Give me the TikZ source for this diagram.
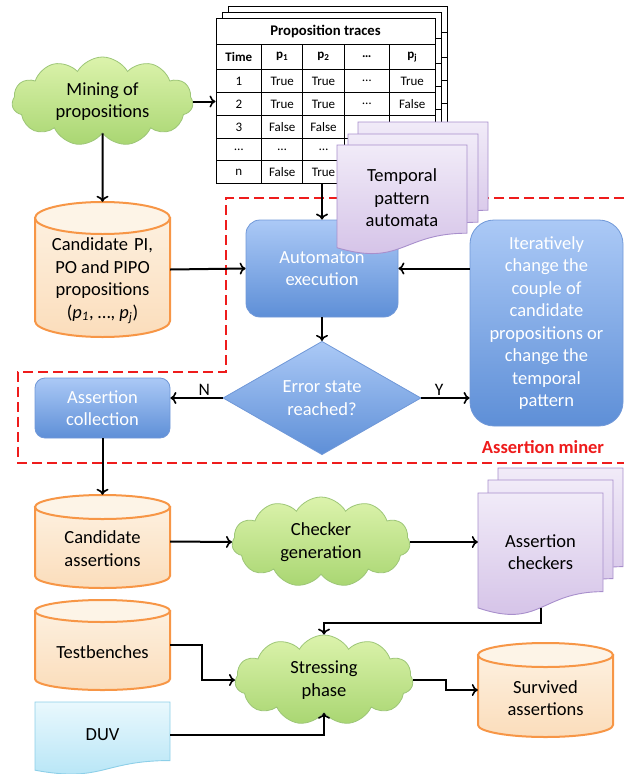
\documentclass[tikz,border=0pt]{standalone}
\usepackage{fontspec}
\setmainfont{Carlito}
\usetikzlibrary{shapes.symbols,shapes.geometric,arrows.meta}

\definecolor{cloudtop}{HTML}{DCF3AC}
\definecolor{cloudbot}{HTML}{A9D672}
\definecolor{cloudline}{HTML}{9DC677}
\definecolor{cyltop}{HTML}{FDF0DF}
\definecolor{cylbot}{HTML}{FBDDBB}
\definecolor{cylcap}{HTML}{FDF4E7}
\definecolor{cylline}{HTML}{F79646}
\definecolor{bluetop}{HTML}{ABC9F6}
\definecolor{bluebot}{HTML}{5E8FD7}
\definecolor{blueline}{HTML}{7098D8}
\definecolor{doctop}{HTML}{F1EBF8}
\definecolor{docbot}{HTML}{D2BFE6}
\definecolor{docline}{HTML}{A88FCC}
\definecolor{duvtop}{HTML}{E9F8FD}
\definecolor{duvbot}{HTML}{B3E4F6}
\definecolor{duvline}{HTML}{8DCFE8}
\definecolor{minered}{HTML}{EE1C1C}

\newcommand\mainfs{\fontsize{18.5}{22.5}\selectfont}
\newcommand\cellfs{\fontsize{13}{15}\selectfont}

% drum (cylinder): #1 name, #2 left, #3 top, #4 width, #5 height, #6 cap radius, #7 text, #8 text drop
\newcommand\drum[8]{%
  \path[top color=cyltop, bottom color=cylbot, draw=cylline, line width=2pt]
    (#2,#3+#6) -- (#2,#3+#5-#6)
    .. controls (#2,#3+#5-0.4477*#6) and (#2+#4/2-0.5523*#4/2,#3+#5) .. (#2+#4/2,#3+#5)
    .. controls (#2+#4/2+0.5523*#4/2,#3+#5) and (#2+#4,#3+#5-0.4477*#6) .. (#2+#4,#3+#5-#6)
    -- (#2+#4,#3+#6) -- cycle;
  \draw[fill=cylcap, draw=cylline, line width=2pt] (#2+#4/2,#3+#6) ellipse [x radius=#4/2, y radius=#6];
  \node[inner sep=0, minimum width=#4pt, minimum height=#5pt] (#1) at (#2+#4/2,#3+#5/2) {};
  \node[align=center, font=\mainfs, inner sep=0] (#1-t) at (#2+#4/2,#3+#5/2+#8) {#7};
}

% document sheet with wavy lower edge: #1 left, #2 top, #3 width, #4 height, #5 style
\newcommand\docshape[5]{%
  \draw[#5] (#1,#2) -- (#1+#3,#2) -- (#1+#3,#2+0.802*#4)
    .. controls (#1+0.5*#3,#2+0.802*#4) and (#1+0.5*#3,#2+1.107*#4) .. (#1,#2+0.934*#4) -- cycle;
}

\tikzset{
  flow/.style={line width=2pt, -{To[length=6pt,width=12pt,line width=1.6pt]}},
  cloudnode/.style={cloud, cloud puffs=11, cloud puff arc=120, cloud ignores aspect,
    draw=cloudline, line width=0.8pt, top color=cloudtop, bottom color=cloudbot,
    inner sep=0pt, align=center, font=\mainfs},
  bluebox/.style={draw=blueline, line width=0.8pt, top color=bluetop, bottom color=bluebot,
    text=white, align=center, font=\mainfs, inner sep=0pt},
  purpledoc/.style={draw=docline, line width=0.9pt, top color=doctop, bottom color=docbot},
  tline/.style={line width=1pt},
  tcell/.style={font=\cellfs, inner sep=0pt},
  thead/.style={font=\cellfs\bfseries, inner sep=0pt},
}

\begin{document}
\begin{tikzpicture}[x=1pt, y=-1pt]
\useasboundingbox (0,0) rectangle (624,774);

% assertion miner region
\draw[minered, line width=2pt, dash pattern=on 10pt off 5pt]
  (624,198) -- (226,198) -- (226,372) -- (18,372) -- (18,463) -- (624,463);
\node[text=minered, font=\mainfs\bfseries, inner sep=0] (minerlbl) at (543,447) {Assertion miner};

% proposition traces: stacked sheets
\foreach \o in {12,6} {
  \draw[tline, fill=white] (216+\o,18-\o) rectangle (435+\o,183-\o);
  \foreach \yy in {44,69.3,92.7,115.7,138.3,160.7}
    \draw[tline] (216+\o,\yy-\o) -- (435+\o,\yy-\o);
}
\node[inner sep=0, minimum width=219pt, minimum height=165pt, draw, tline, fill=white] (tbl) at (325.5,100.5) {};
\foreach \yy in {44,69.3,92.7,115.7,138.3,160.7}
  \draw[tline] (216,\yy) -- (435,\yy);
\foreach \xx in {261.7,302.7,344.3,389.3}
  \draw[tline] (\xx,44) -- (\xx,183);
\node[font=\fontsize{14.7}{16}\selectfont\bfseries, inner sep=0] (tbltitle) at (325.5,31) {Proposition traces};
\node[thead] (h1) at (238.8,56.7) {Time};
\node[thead] (h2) at (282.2,56.7) {p\textsubscript{1}};
\node[thead] (h3) at (323.5,56.7) {p\textsubscript{2}};
\node[thead] (h4) at (366.8,56.7) {…};
\node[thead] (h5) at (412.2,56.7) {p\textsubscript{j}};
\node[tcell] (a1) at (238.8,81) {1};
\node[tcell] (a2) at (282.2,81) {True};
\node[tcell] (a3) at (323.5,81) {True};
\node[tcell] (a4) at (366.8,81) {…};
\node[tcell] (a5) at (412.2,81) {True};
\node[tcell] (b1) at (238.8,104.2) {2};
\node[tcell] (b2) at (282.2,104.2) {True};
\node[tcell] (b3) at (323.5,104.2) {True};
\node[tcell] (b4) at (366.8,104.2) {…};
\node[tcell] (b5) at (412.2,104.2) {False};
\node[tcell] (c1) at (238.8,127) {3};
\node[tcell] (c2) at (282.2,127) {False};
\node[tcell] (c3) at (323.5,127) {False};
\node[tcell] (d1) at (238.8,149.5) {…};
\node[tcell] (d2) at (282.2,149.5) {…};
\node[tcell] (d3) at (323.5,149.5) {…};
\node[tcell] (e1) at (238.8,172) {n};
\node[tcell] (e2) at (282.2,172) {False};
\node[tcell] (e3) at (323.5,172) {True};

% miner boxes
\node[bluebox, rounded corners=14pt, minimum width=152pt, minimum height=97pt] (auto) at (322,268.5) {Automaton\\execution};
\node[bluebox, rounded corners=24pt, minimum width=153pt, minimum height=206pt] (iter) at (546.5,323)
  {Iteratively\\change the\\couple of\\candidate\\propositions or\\change the\\temporal\\pattern};
\node[bluebox, diamond, minimum width=198pt, minimum height=96pt] (dia) at (322,398) {Error state\\reached?};
\node[bluebox, rounded corners=10pt, minimum width=135pt, minimum height=60pt] (coll) at (102.5,408) {Assertion\\collection};

% temporal pattern automata: stacked sheets
\docshape{358}{122}{130}{110}{purpledoc}
\docshape{348}{134}{130}{110}{purpledoc}
\docshape{337}{145}{130}{110}{purpledoc}
\node[inner sep=0, minimum width=130pt, minimum height=110pt, align=center, font=\mainfs] (tpa) at (402,198) {Temporal\\pattern\\automata};

% assertion checkers: stacked sheets
\docshape{498}{468}{125}{123}{purpledoc}
\docshape{488}{480}{125}{123}{purpledoc}
\docshape{478}{493}{125}{123}{purpledoc}
\node[inner sep=0, minimum width=125pt, minimum height=118pt, align=center, font=\mainfs] (achk) at (540.5,552) {Assertion\\checkers};
\coordinate (achkbot) at (540.5,607.7);

% DUV sheet
\docshape{35}{702}{135}{73}{draw=duvline, line width=0.9pt, top color=duvtop, bottom color=duvbot}
\node[inner sep=0, minimum width=135pt, minimum height=70pt, font=\mainfs] (duv) at (102.5,735) {DUV};

% clouds
\node[cloudnode, minimum width=181pt, minimum height=89pt] (mine) at (102.5,101.5) {Mining of\\propositions};
\node[cloudnode, minimum width=178pt, minimum height=90pt] (checker) at (321,542) {Checker\\generation};
\node[cloudnode, minimum width=178pt, minimum height=90pt] (stress) at (324,680) {Stressing\\phase};

% drums
\drum{cand}{35}{202}{135}{135}{16}{Candidate\,\,PI,\\PO and PIPO\\propositions\\(\textit{p}\textsubscript{\textit{1}}, …, \textit{p}\textsubscript{\textit{j}})}{11}
\drum{cass}{35}{495}{135}{93}{12}{Candidate\\assertions}{7}
\drum{tb}{35}{600}{135}{90}{11}{Testbenches}{7}
\drum{surv}{478}{643}{135}{94}{12}{Survived\\assertions}{8}

% connectors
\draw[flow] (mine.east) -- (mine.east -| tbl.west);
\draw[flow] (mine.south) -- (cand.north);
\draw[flow] (auto.north |- tbl.south) -- (auto.north);
\draw[flow] (cand.east) -- (auto.west);
\draw[flow] (iter.west |- auto.east) -- (auto.east);
\draw[flow] (auto.south) -- (dia.north);
\draw[flow] (dia.west) -- node[pos=0.35, above=2pt, font=\fontsize{17.5}{20}\selectfont, inner sep=0] (nlbl) {N} (dia.west -| coll.east);
\draw[flow] (dia.east) -- node[pos=0.37, above=2pt, font=\fontsize{17.5}{20}\selectfont, inner sep=0] (ylbl) {Y} (dia.east -| iter.west);
\draw[flow] (coll.south) -- (cass.north);
\draw[flow] (cass.east) -- (checker.west);
\draw[flow] (checker.east) -- (checker.east -| achk.west);
\draw[flow] (achkbot) -- ++(0,15) -| (stress.north);
\draw[flow] (tb.east) -- ++(32,0) |- (stress.west);
\draw[flow] (duv.east) -| (stress.south);
\draw[flow] (stress.east) -- ++(33,0) |- (surv.west);
\end{tikzpicture}
\end{document}
